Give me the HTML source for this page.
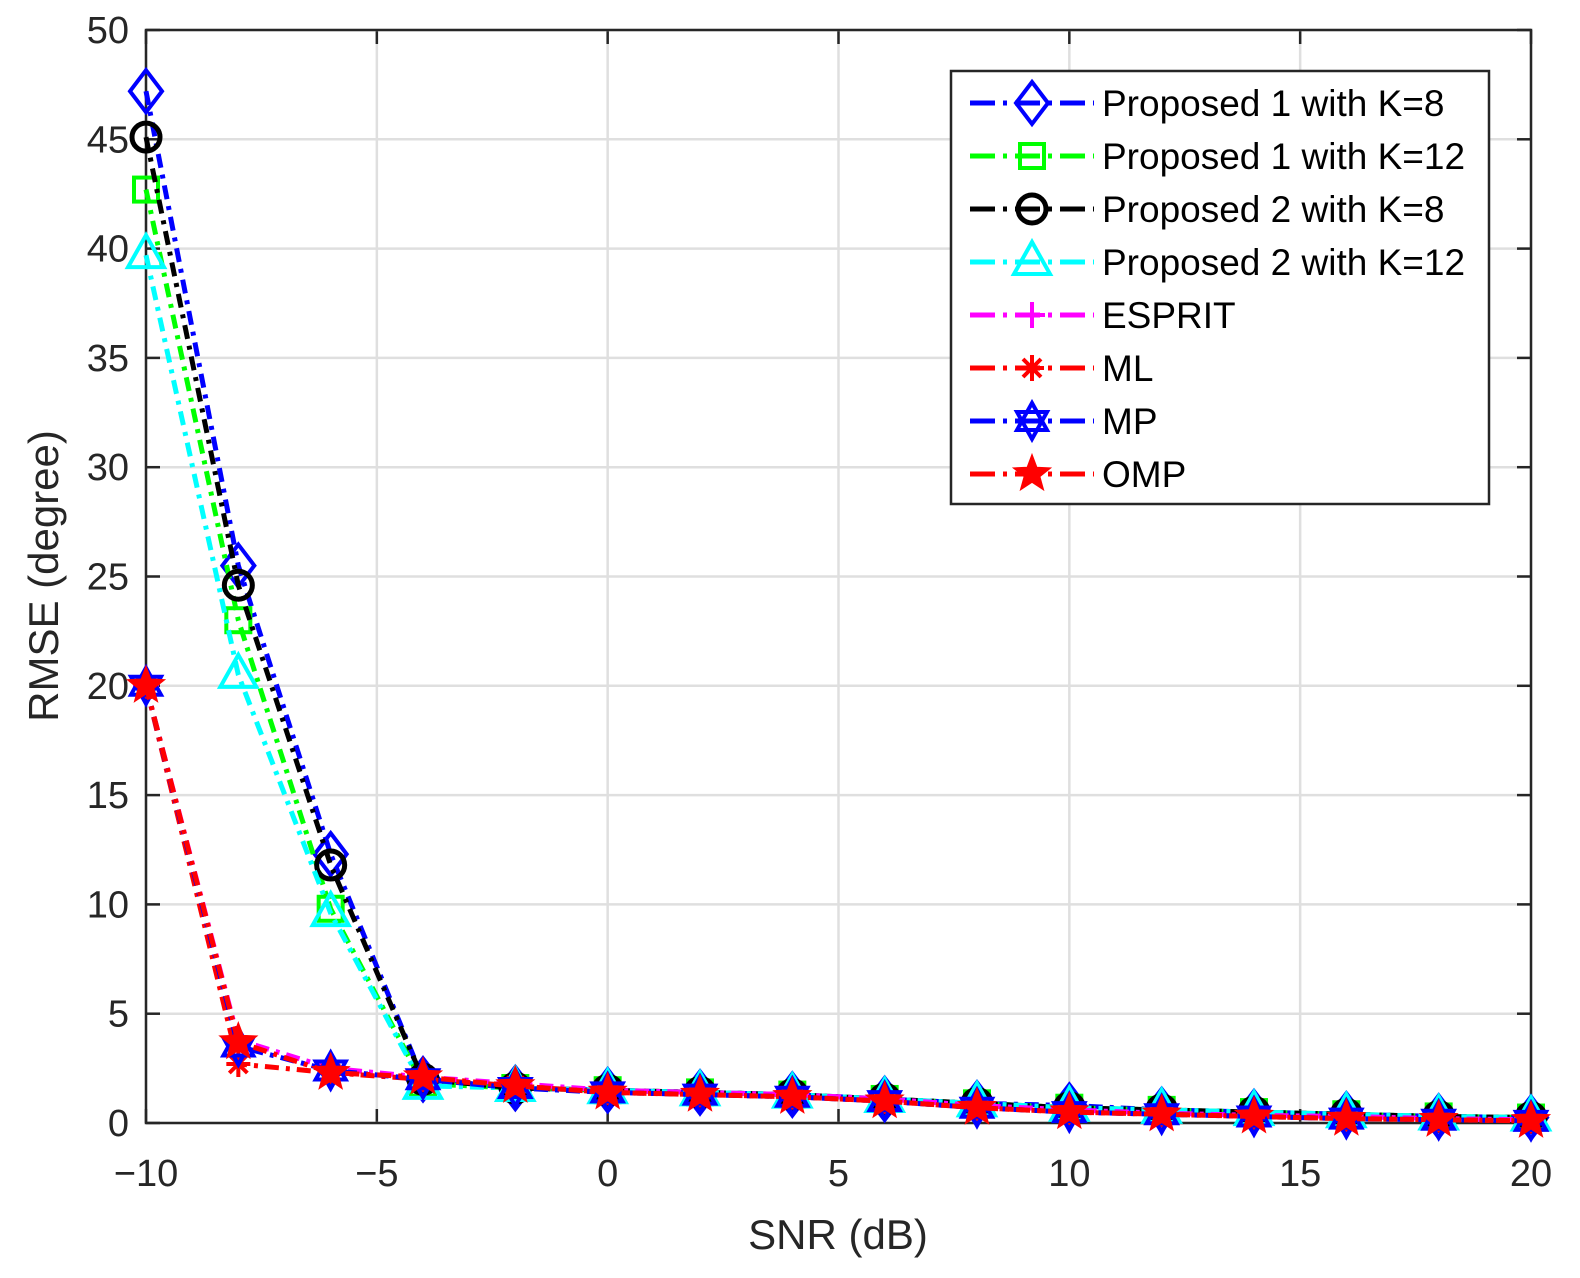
<!DOCTYPE html>
<html><head><meta charset="utf-8"><style>body{margin:0;background:#fff}svg{display:block}</style></head>
<body>
<svg id="chart" width="1580" height="1278" xmlns="http://www.w3.org/2000/svg" font-family="Liberation Sans, sans-serif"></svg>
<script>
const snr=[-10,-8,-6,-4,-2,0,2,4,6,8,10,12,14,16,18,20];
const p1k8=[47.2,25.5,12.3,2.0,1.6,1.5,1.4,1.3,1.1,0.9,0.8,0.6,0.5,0.4,0.3,0.25];
const p1k12=[42.7,23.0,9.8,1.8,1.6,1.5,1.4,1.3,1.1,0.9,0.7,0.6,0.5,0.4,0.3,0.25];
const p2k8=[45.1,24.6,11.8,2.0,1.6,1.5,1.4,1.3,1.1,0.9,0.7,0.6,0.5,0.4,0.3,0.25];
const p2k12=[39.7,20.5,9.6,1.7,1.6,1.5,1.4,1.3,1.1,0.9,0.7,0.6,0.5,0.4,0.3,0.25];
const esprit=[20,3.8,2.5,2.1,1.8,1.5,1.4,1.3,1.1,0.8,0.6,0.45,0.35,0.3,0.2,0.15];
const ml=[20,2.7,2.3,2.0,1.7,1.4,1.3,1.2,1.0,0.7,0.5,0.4,0.3,0.2,0.15,0.1];
const mp=[20,3.5,2.4,2.0,1.6,1.4,1.3,1.2,1.0,0.7,0.5,0.4,0.3,0.2,0.15,0.1];
const omp=[20,3.7,2.3,2.1,1.7,1.4,1.3,1.2,1.0,0.7,0.5,0.4,0.3,0.2,0.15,0.1];
const xTicks=[-10,-5,0,5,10,15,20];
const xTickLabels=['\u221210','\u22125','0','5','10','15','20'];
const yTicks=[0,5,10,15,20,25,30,35,40,45,50];
const series=[
 {name:'Proposed 1 with K=8',data:p1k8,color:'#0000ff',m:'diamond',id:'p1k8'},
 {name:'Proposed 1 with K=12',data:p1k12,color:'#00ff00',m:'square',id:'p1k12'},
 {name:'Proposed 2 with K=8',data:p2k8,color:'#000000',m:'circle',id:'p2k8'},
 {name:'Proposed 2 with K=12',data:p2k12,color:'#00ffff',m:'triangle',id:'p2k12'},
 {name:'ESPRIT',data:esprit,color:'#ff00ff',m:'plus',id:'esprit'},
 {name:'ML',data:ml,color:'#ff0000',m:'asterisk',id:'ml'},
 {name:'MP',data:mp,color:'#0000ff',m:'hexagram',id:'mp'},
 {name:'OMP',data:omp,color:'#ff0000',m:'star',id:'omp'}];
const L=146,R=1531,T=30,B=1123;
const X=v=>L+(v+10)/30*(R-L);
const Y=v=>B-v/50*(B-T);
const svg=document.getElementById('chart');
const NS='http://www.w3.org/2000/svg';
function el(t,a,p){const e=document.createElementNS(NS,t);for(const k in a)e.setAttribute(k,a[k]);(p||svg).appendChild(e);return e;}
xTicks.forEach((t,i)=>{
 const g=el('line',{x1:X(t),x2:X(t),y1:T,y2:B,stroke:'#dfdfdf','stroke-width':2.5});
 
 
 el('line',{x1:X(t),x2:X(t),y1:B,y2:B-14,stroke:'#262626','stroke-width':2.5});
 el('line',{x1:X(t),x2:X(t),y1:T,y2:T+14,stroke:'#262626','stroke-width':2.5});
 const tx=el('text',{x:X(t),y:1186,'text-anchor':'middle','font-size':38,fill:'#262626'});
 tx.textContent=xTickLabels[i];
 
 
});
yTicks.forEach(t=>{
 const g=el('line',{x1:L,x2:R,y1:Y(t),y2:Y(t),stroke:'#dfdfdf','stroke-width':2.5});
 
 
 el('line',{x1:L,x2:L+14,y1:Y(t),y2:Y(t),stroke:'#262626','stroke-width':2.5});
 el('line',{x1:R,x2:R-14,y1:Y(t),y2:Y(t),stroke:'#262626','stroke-width':2.5});
 const tx=el('text',{x:129,y:Y(t)+13,'text-anchor':'end','font-size':38,fill:'#262626'});
 tx.textContent=t;
 
 
});
const box=el('rect',{x:L,y:T,width:R-L,height:B-T,fill:'none',stroke:'#262626','stroke-width':2.5});


const xt=el('text',{x:838,y:1249,'text-anchor':'middle','font-size':42,fill:'#262626'});xt.textContent='SNR (dB)';


const yt=el('text',{x:0,y:0,'text-anchor':'middle','font-size':42,fill:'#262626',transform:'translate(58,576) rotate(-90)'});yt.textContent='RMSE (degree)';


function marker(g,type,x,y,c){
 const sw=4;
 if(type==='diamond')el('polygon',{points:`${x},${y-21} ${x+16},${y} ${x},${y+21} ${x-16},${y}`,fill:'none',stroke:c,'stroke-width':sw},g);
 if(type==='square')el('rect',{x:x-12,y:y-12,width:24,height:24,fill:'none',stroke:c,'stroke-width':sw},g);
 if(type==='circle')el('circle',{cx:x,cy:y,r:14,fill:'none',stroke:c,'stroke-width':sw+1},g);
 if(type==='triangle')el('polygon',{points:`${x},${y-20} ${x+18},${y+12} ${x-18},${y+12}`,fill:'none',stroke:c,'stroke-width':sw},g);
 if(type==='plus'){el('path',{d:`M${x-13} ${y}H${x+13}M${x} ${y-13}V${y+13}`,stroke:c,'stroke-width':sw},g);}
 if(type==='asterisk'){el('path',{d:`M${x-12} ${y}H${x+12}M${x} ${y-13}V${y+13}M${x-9} ${y-9}L${x+9} ${y+9}M${x-9} ${y+9}L${x+9} ${y-9}`,stroke:c,'stroke-width':sw},g);}
 if(type==='hexagram'){el('polygon',{points:`${x},${y-18} ${x+15},${y+9} ${x-15},${y+9}`,fill:'none',stroke:c,'stroke-width':sw},g);el('polygon',{points:`${x},${y+18} ${x+15},${y-9} ${x-15},${y-9}`,fill:'none',stroke:c,'stroke-width':sw},g);}
 if(type==='star'){let p=[];for(let i=0;i<10;i++){const r=i%2?8:19,a=-Math.PI/2+i*Math.PI/5;p.push((x+r*Math.cos(a)).toFixed(1)+','+(y+r*Math.sin(a)).toFixed(1));}el('polygon',{points:p.join(' '),fill:c,stroke:c,'stroke-width':1.5},g);}
}
series.forEach(s=>{
 const g=el('g',{});
 
 
 const d=s.data.map((v,i)=>(i?'L':'M')+X(snr[i])+' '+Y(v)).join('');
 el('path',{d:d,fill:'none',stroke:s.color,'stroke-width':5,'stroke-dasharray':'14 7 4 7'},g);
 s.data.forEach((v,i)=>marker(g,s.m,X(snr[i]),Y(v),s.color));
});
const lg=el('g',{});


el('rect',{x:951,y:71,width:538,height:433,fill:'#fff',stroke:'#262626','stroke-width':2.5},lg);
series.forEach((s,i)=>{
 const y=103+i*53;
 const e=el('g',{},lg);
 
 
 el('path',{d:`M970 ${y}H1094`,stroke:s.color,'stroke-width':5,'stroke-dasharray':'25 8 4 8'},e);
 marker(e,s.m,1032,y,s.color);
 const t=el('text',{x:1102,y:y+13,'font-size':37,fill:'#000'},e);t.textContent=s.name;
});
</script>
</body></html>
